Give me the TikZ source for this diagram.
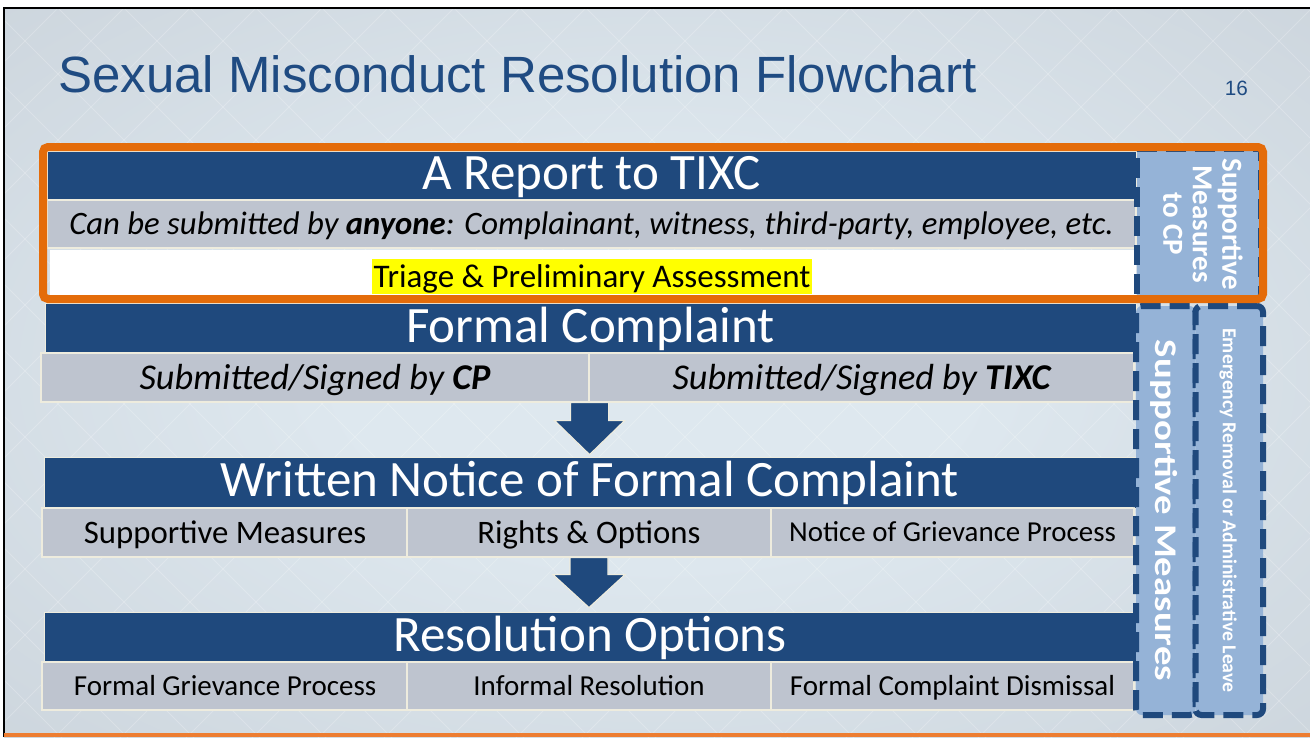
\documentclass[tikz,border=0pt]{standalone}
\usepackage{fontspec}
\usepackage{graphicx}
\setmainfont{Carlito}
\newfontfamily\titlefont{Liberation Sans}
\usetikzlibrary{calc}
\definecolor{dblue}{RGB}{31,73,125}
\definecolor{lblue}{RGB}{149,179,215}
\definecolor{rowgrey}{RGB}{190,196,207}
\definecolor{cream}{RGB}{238,236,222}
\definecolor{orng}{RGB}{228,108,10}
\definecolor{botorng}{RGB}{237,125,49}
\definecolor{bgin}{RGB}{222,232,239}
\definecolor{bgout}{RGB}{195,203,211}
\definecolor{titleblue}{RGB}{31,75,130}
\definecolor{hilite}{RGB}{255,255,0}
\pgfdeclareradialshading{slidebg}{\pgfpoint{0bp}{0bp}}{color(0bp)=(bgin); color(12bp)=(bgin); color(50bp)=(bgout); color(72bp)=(bgout)}
\begin{document}
\begin{tikzpicture}[x=1pt,y=-1pt,
  bar/.style={fill=dblue, draw=cream, line width=0.8pt, text=white, inner sep=0pt, font=\fontsize{51}{51}\selectfont, text height=32.8pt, text depth=4pt},
  cell/.style={fill=rowgrey, draw=cream, line width=1.2pt, text=black, inner sep=0pt},
  fnt/.style 2 args={font=\fontsize{#1}{#1}\selectfont, text height=#2pt, text depth=0pt},
  sidebox/.style={fill=lblue, draw=dblue, line width=6pt, dash pattern=on 20pt off 9pt, rounded corners=6pt, inner sep=0pt},
  sidetext/.style={text=white, rotate=-90, inner sep=0pt, align=center},
  blockarrow/.style={fill=dblue, draw=cream, line width=1.2pt, line join=miter}
]
\useasboundingbox (0,0) rectangle (1310,737);
\fill[white] (0,0) rectangle (1310,737);
% slide background
\shade[shading=slidebg] (4,8) rectangle (1310,737);
\begin{scope}
  \clip (4,8) rectangle (1310,737);
  \foreach \k in {-800,-734,...,2100} {
    \draw[white, opacity=0.22, line width=0.8pt] (\k,8) -- ++(760,760);
    \draw[white, opacity=0.22, line width=0.8pt] (\k,8) -- ++(-760,760);
  }
\end{scope}
\draw[black, line width=2pt] (4,737) -- (4,8) -- (1310,8);
\fill[botorng] (4,733) rectangle (1310,737);

% title
\node[anchor=base west, inner sep=0pt, text=titleblue, font=\titlefont\fontsize{51}{60}\selectfont] (title) at (58,92) {Sexual Misconduct Resolution Flowchart};
\node[anchor=base east, inner sep=0pt, text=titleblue, font=\titlefont\fontsize{20.7}{24}\selectfont] (page) at (1248,95) {16};

% report section
\node[bar, minimum width=1089pt, minimum height=49pt] (rep) at (591.5,175.5) {A Report to TIXC};
\node[cell, fnt={32.7}{21}, minimum width=1089pt, minimum height=48pt] (anyone) at (591.5,224) {\itshape Can be submitted by \textbf{anyone}: Complainant, witness, third-party, employee, etc.};
\node[fill=white, inner sep=0pt, minimum width=1086pt, minimum height=45pt] (triagerow) at (593,272.5) {};
\node[fill=hilite, anchor=base, font=\fontsize{33}{33}\selectfont, text height=26pt, text depth=5pt, inner xsep=2pt, inner ysep=2pt] (triage) at (592,287) {Triage \& Preliminary Assessment};

% formal complaint
\node[bar, minimum width=1091pt, minimum height=50pt] (fc) at (590.5,328) {Formal Complaint};
\node[cell, fnt={36.3}{23.4}, minimum width=548pt, minimum height=49pt] (fcA) at (315,377.5) {\itshape Submitted/Signed by \textbf{CP}};
\node[cell, fnt={36.3}{23.4}, minimum width=545pt, minimum height=49pt] (fcB) at (861.5,377.5) {\itshape Submitted/Signed by \textbf{TIXC}};

% written notice
\node[bar, minimum width=1092pt, minimum height=51pt] (wn) at (590,482.5) {Written Notice of Formal Complaint};
\node[cell, fnt={32.8}{21.1}, minimum width=366pt, minimum height=49pt] (wnA) at (225,532.5) {Supportive Measures};
\node[cell, fnt={32.8}{21.1}, minimum width=364pt, minimum height=49pt] (wnB) at (589,532.5) {Rights \& Options};
\node[cell, fnt={28.9}{18.6}, minimum width=363pt, minimum height=49pt] (wnC) at (952.5,532.5) {Notice of Grievance Process};

% resolution options
\node[bar, minimum width=1092pt, minimum height=50pt] (ro) at (590,637) {Resolution Options};
\node[cell, fnt={29}{18.7}, minimum width=366pt, minimum height=48pt] (roA) at (225,686) {Formal Grievance Process};
\node[cell, fnt={29}{18.7}, minimum width=364pt, minimum height=48pt] (roB) at (589,686) {Informal Resolution};
\node[cell, fnt={29}{18.7}, minimum width=363pt, minimum height=48pt] (roC) at (952.5,686) {Formal Complaint Dismissal};

% block arrows
\coordinate (a1top) at (fcA.south east);
\coordinate (a1tip) at ($(wn.north -| a1top)+(0,-2)$);
\draw[blockarrow] ($(a1top)+(-19,0)$) -- ($(a1top)+(19,0)$) -- ($(a1top)+(19,18)$) -- ($(a1top)+(35,18)$) -- (a1tip) -- ($(a1top)+(-35,18)$) -- ($(a1top)+(-19,18)$) -- cycle;
\coordinate (a2top) at (wnB.south);
\coordinate (a2tip) at ($(ro.north -| a2top)+(0,-4)$);
\draw[blockarrow] ($(a2top)+(-19,0)$) -- ($(a2top)+(19,0)$) -- ($(a2top)+(19,17)$) -- ($(a2top)+(36,17)$) -- (a2tip) -- ($(a2top)+(-36,17)$) -- ($(a2top)+(-19,17)$) -- cycle;

% side boxes
\node[sidebox, minimum width=59.5pt, minimum height=409pt] (smbox) at (1165.75,510.5) {};
\node[sidebox, minimum width=67.5pt, minimum height=409pt] (erbox) at (1229.25,510.5) {};
\node[sidetext, font=\bfseries\fontsize{31.5}{31.5}\selectfont, text height=20.3pt, text depth=0pt] (smtext) at (smbox.center) {\scalebox{1.23}[1]{Supportive Measures}};
\node[sidetext, font=\bfseries\fontsize{19.8}{19.8}\selectfont, text height=12.8pt, text depth=0pt] (ertext) at (erbox.center) {Emergency Removal or Administrative Leave};

\node[sidebox, rounded corners=0pt, minimum width=124pt, minimum height=149pt] (cpbox) at (1199,223.5) {};
\node[sidetext, font=\bfseries\fontsize{29}{29.5}\selectfont] (cptext) at (1203,224) {Supportive\\Measures\\to CP};

% orange frame
\node[draw=orng, line width=8pt, rounded corners=5pt, inner sep=0pt, minimum width=1220pt, minimum height=152pt] (frame) at (653,223) {};
\end{tikzpicture}
\end{document}
